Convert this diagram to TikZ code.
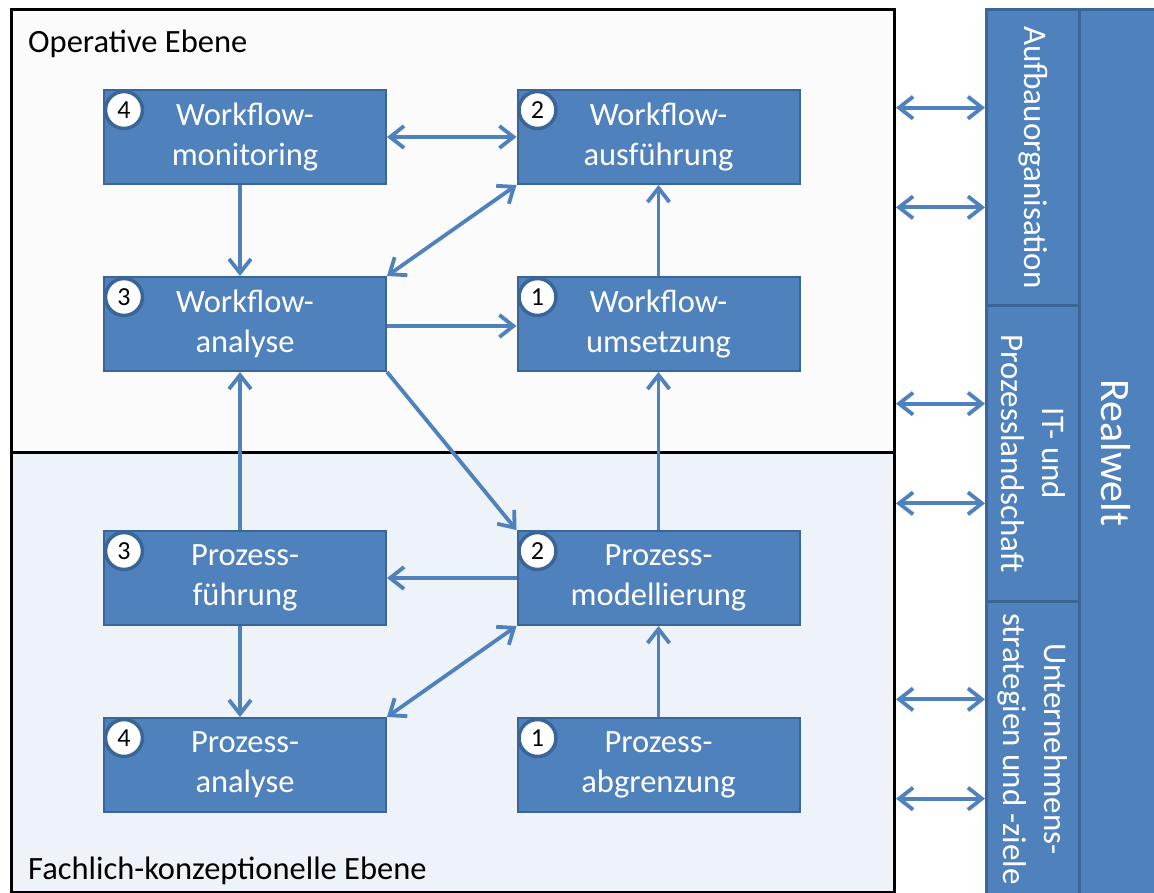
\documentclass[tikz,border=0pt]{standalone}
\usepackage{fontspec}
\setmainfont{Carlito}
\usetikzlibrary{arrows.meta,calc}
\definecolor{boxblue}{HTML}{4F81BD}
\definecolor{boxedge}{HTML}{3A6597}
\definecolor{opfill}{HTML}{FBFBFC}
\definecolor{fachfill}{HTML}{EEF2F9}
\begin{document}
\begin{tikzpicture}[x=1pt,y=-1pt,
  layer/.style={draw=black, line width=3pt, anchor=north west, inner sep=0pt, minimum width=883pt},
  stepbox/.style={draw=boxedge, fill=boxblue, line width=2pt, minimum width=282pt, minimum height=94pt,
    inner sep=0pt, text=white, align=center, font=\fontsize{32.5}{40}\selectfont},
  numdot/.style={circle, draw=boxedge, fill=white, line width=3.5pt, minimum size=37pt, inner sep=0pt,
    font=\fontsize{26}{26}\selectfont},
  tip/.tip={Straight Barb[length=14pt,width=22pt]},
  flow/.style={draw=boxblue, line width=3.8pt, -tip},
  flowboth/.style={draw=boxblue, line width=3.8pt, tip-tip},
  section/.style={draw=boxedge, fill=boxblue, line width=3pt, anchor=north west, inner sep=0pt, minimum width=93pt},
  sidetext/.style={text=white, rotate=-90, align=center, font=\fontsize{33}{41}\selectfont},
  layerlabel/.style={anchor=base west, inner sep=0pt, font=\fontsize{32.5}{32.5}\selectfont}
]
\useasboundingbox (0,0) rectangle (1154,892);
\fill[white] (0,0) rectangle (1154,892);

% the two levels
\node[layer, fill=opfill, minimum height=443pt] (op) at (10,8) {};
\node[layer, fill=fachfill, minimum height=440pt] (fach) at (10,451) {};
\node[layerlabel] (oplabel) at (28,52) {Operative Ebene};
\node[layerlabel] (fachlabel) at (28,879) {Fachlich-konzeptionelle Ebene};

% real world column
\node[draw=boxedge, fill=boxblue, line width=3pt, anchor=north west, inner sep=0pt,
      minimum width=172pt, minimum height=887pt] (real) at (985,8) {};
\node[section, minimum height=296pt] (aufbau) at (985,8) {};
\node[section, minimum height=296pt] (itland) at (985,304) {};
\node[section, minimum height=295pt] (ziele) at (985,600) {};
\node[sidetext] (aufbautext) at (aufbau.center) {Aufbauorganisation};
\node[sidetext] (ittext) at (itland.center) {IT- und\\Prozesslandschaft};
\node[sidetext] (zieletext) at (ziele.center) {Unternehmens-\\strategien und -ziele};
\node[text=white, rotate=-90, font=\fontsize{42}{42}\selectfont] (realtext) at (1116,453) {Realwelt};

% process steps
\node[stepbox] (wmon) at (245,137) {Workflow-\\monitoring};
\node[stepbox] (wausf) at (658.5,137) {Workflow-\\ausführung};
\node[stepbox] (wana) at (245,324) {Workflow-\\analyse};
\node[stepbox] (wums) at (658.5,324) {Workflow-\\umsetzung};
\node[stepbox] (pfuehr) at (245,578) {Prozess-\\führung};
\node[stepbox] (pmod) at (658.5,578) {Prozess-\\modellierung};
\node[stepbox] (pana) at (245,765) {Prozess-\\analyse};
\node[stepbox] (pabg) at (658.5,765) {Prozess-\\abgrenzung};

% step numbers
\node[numdot] (n1) at ($(wmon.north west)+(21,21)$) {4};
\node[numdot] (n2) at ($(wausf.north west)+(21,21)$) {2};
\node[numdot] (n3) at ($(wana.north west)+(21,21)$) {3};
\node[numdot] (n4) at ($(wums.north west)+(21,21)$) {1};
\node[numdot] (n5) at ($(pfuehr.north west)+(21,21)$) {3};
\node[numdot] (n6) at ($(pmod.north west)+(21,21)$) {2};
\node[numdot] (n7) at ($(pana.north west)+(21,21)$) {4};
\node[numdot] (n8) at ($(pabg.north west)+(21,21)$) {1};

% flows between the steps
\draw[flowboth] (wmon.east) -- (wausf.west);
\draw[flow] ([xshift=-5pt]wmon.south) -- ([xshift=-5pt]wana.north);
\draw[flowboth] (wana.north east) -- (wausf.south west);
\draw[flow] ([yshift=-2pt]wana.east) -- ([yshift=-2pt]wums.west);
\draw[flow] (wums.north) -- (wausf.south);
\draw[flow] (wana.south east) -- (pmod.north west);
\draw[flow] ([xshift=-5pt]pfuehr.north) -- ([xshift=-5pt]wana.south);
\draw[flow] (pmod.west) -- (pfuehr.east);
\draw[flow] (pmod.north) -- (wums.south);
\draw[flow] ([xshift=-5pt]pfuehr.south) -- ([xshift=-5pt]pana.north);
\draw[flowboth] (pmod.south west) -- (pana.north east);
\draw[flow] (pabg.north) -- (pmod.south);

% links to the real world
\foreach \sec/\id in {aufbau/a, itland/b, ziele/c}{
  \coordinate (\id1) at ($(\sec.north west)!1/3!(\sec.south west)$);
  \coordinate (\id2) at ($(\sec.north west)!2/3!(\sec.south west)$);
  \draw[flowboth] (\id1 -| op.east) -- (\id1);
  \draw[flowboth] (\id2 -| op.east) -- (\id2);
}
\end{tikzpicture}
\end{document}
